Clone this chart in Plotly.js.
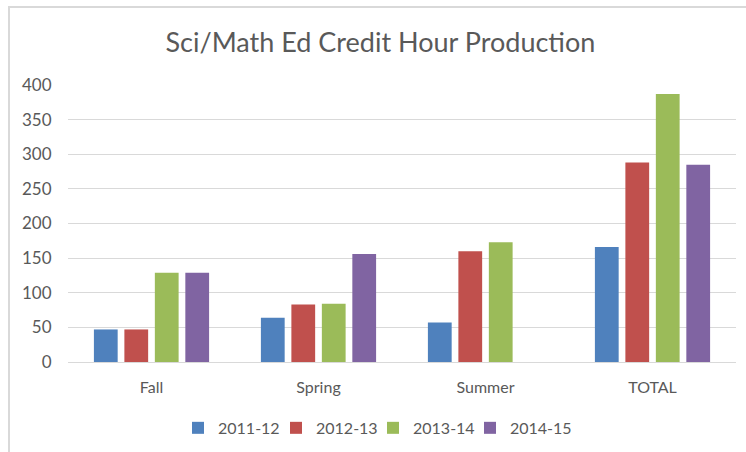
<!DOCTYPE html>
<html>
<head>
<meta charset="utf-8">
<script src="https://cdn.plot.ly/plotly-3.0.1.min.js"></script>
<style>
  html, body { margin: 0; padding: 0; background: #fff; }
  #wrap { position: relative; width: 746px; height: 452px; overflow: hidden; }
  #frame { position: absolute; left: 8px; top: 6px; width: 760px; height: 470px;
           border-left: 2px solid #d9d9d9; border-top: 2px solid #d9d9d9; pointer-events: none; }
  #chart { position: absolute; left: 0; top: 0; width: 746px; height: 452px; }
</style>
</head>
<body>
<div id="wrap">
  <div id="chart"></div>
  <div id="frame"></div>
</div>
<script>
const categories = ["Fall", "Spring", "Summer", "TOTAL"];
const seriesNames = ["2011-12", "2012-13", "2013-14", "2014-15"];
const values2011 = [47, 64, 57, 166];
const values2012 = [47, 83, 160, 288];
const values2013 = [129, 84, 173, 387];
const values2014 = [129, 156, null, 285];
const seriesColors = ["#4F81BD", "#C0504D", "#9BBB59", "#8064A2"];
const yTicks = [0, 50, 100, 150, 200, 250, 300, 350, 400];

const allValues = [values2011, values2012, values2013, values2014];
const legendIds = ["legend", "legend2", "legend3", "legend4"];
const traces = allValues.map((vals, i) => ({
  type: "bar",
  name: seriesNames[i],
  x: categories,
  y: vals,
  legend: legendIds[i],
  marker: { color: seriesColors[i] },
  hoverinfo: "none"
}));

const font = "Lato, 'Open Sans', sans-serif";
const legendX = [0.1647, 0.3114, 0.4566, 0.6018];
const layout = {
  width: 746, height: 452,
  margin: { l: 68, r: 10, t: 85, b: 90, autoexpand: false },
  paper_bgcolor: "#fff", plot_bgcolor: "#fff",
  title: { text: "Sci/Math Ed Credit Hour Production", x: 0.51, xanchor: "center",
           y: 0.905, yanchor: "middle",
           font: { family: font, size: 27, color: "#595959" } },
  barmode: "group",
  bargap: 0.27,
  bargroupgap: 0.22,
  font: { family: font, size: 16, color: "#595959" },
  xaxis: {
    type: "category",
    showgrid: false,
    showline: true, linecolor: "#d9d9d9", linewidth: 1,
    ticks: "outside", ticklen: 11, tickcolor: "rgba(0,0,0,0)",
    tickfont: { family: font, size: 16, color: "#595959" },
    zeroline: false
  },
  yaxis: {
    range: [0, 400],
    tickvals: yTicks,
    showgrid: true, gridcolor: "#d9d9d9", gridwidth: 1,
    zeroline: false, showline: false,
    ticks: "outside", ticklen: 12, tickcolor: "rgba(0,0,0,0)",
    tickfont: { family: font, size: 17, color: "#595959" }
  },
  showlegend: true
};
legendIds.forEach((id, i) => {
  layout[id] = {
    orientation: "h", x: legendX[i], xanchor: "left", y: -0.238, yanchor: "middle",
    bgcolor: "rgba(0,0,0,0)",
    font: { family: font, size: 16, color: "#595959" },
    itemclick: false, itemdoubleclick: false
  };
});

Plotly.newPlot("chart", traces, layout, { displayModeBar: false, staticPlot: true });
</script>
</body>
</html>
